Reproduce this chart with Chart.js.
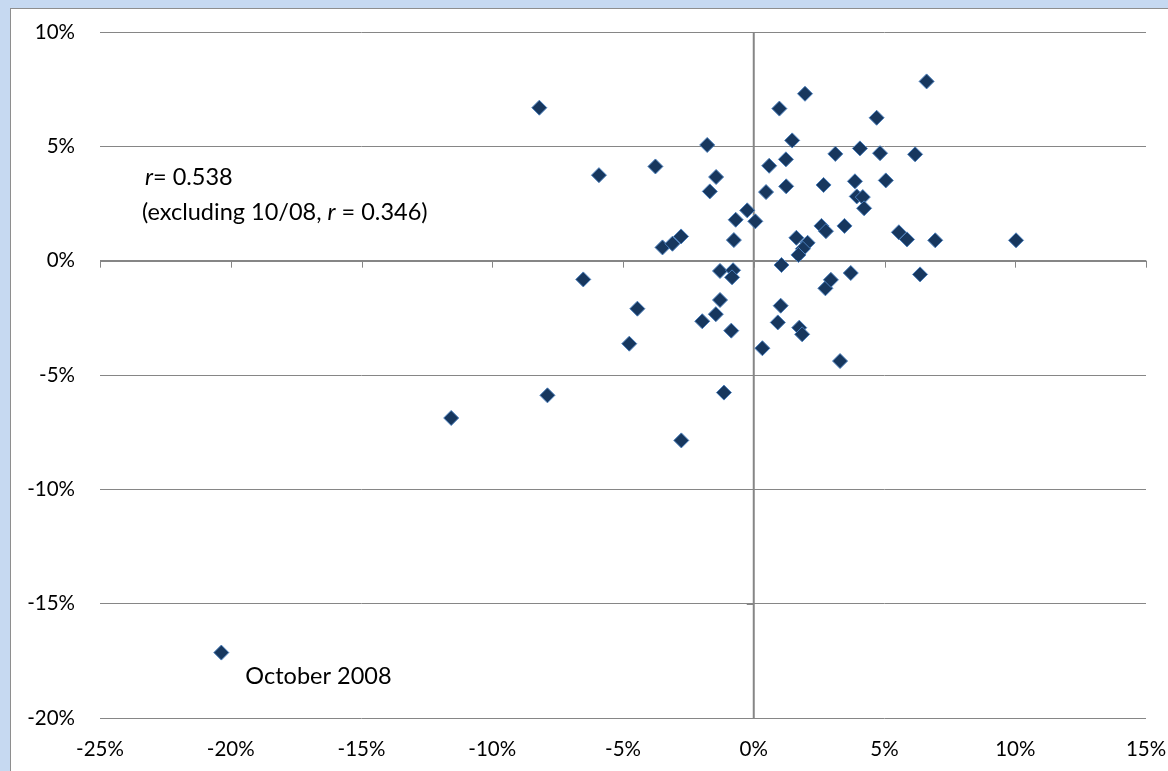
<!DOCTYPE html>
<html>
<head>
<meta charset="utf-8">
<script src="https://cdn.jsdelivr.net/npm/chart.js@4.4.1/dist/chart.umd.min.js"></script>
<style>
  html, body { margin: 0; padding: 0; overflow: hidden; background: #c6d9f1; }
  #frame { position: absolute; left: 10px; top: 8px; width: 1170px; height: 775px; background: #fff; border: 1px solid #8e8e8e; }
  #wrap { position: absolute; left: 0; top: 0; width: 1157px; height: 762px; }
</style>
</head>
<body>
<div id="frame"><div id="wrap"><canvas id="scatter"></canvas></div></div>
<script>
// monthly returns, in percent (x vs y)
const xValues = [
  -20.36, -11.57, -7.89, -8.20, -5.92, -6.52, -4.76, -4.45, -3.76, -3.49,
  -3.11, -2.78, -2.77, -1.97, -1.78, -1.68, -1.44, -1.45, -1.29, -1.29,
  -1.14, -0.79, -0.83, -0.86, -0.76, -0.69, -0.25, 0.06, 0.33, 0.47,
  0.59, 0.98, 1.06, 1.03, 0.92, 1.23, 1.24, 1.47, 1.63, 2.06,
  1.88, 1.71, 1.96, 1.74, 1.85, 2.59, 2.76, 2.67, 2.74, 2.95,
  3.12, 3.30, 3.47, 3.71, 3.87, 3.94, 4.06, 4.17, 4.22, 4.70,
  4.83, 5.05, 5.55, 5.86, 6.17, 6.36, 6.61, 6.94, 10.03
]
const yValues = [
  -17.14, -6.88, -5.89, 6.69, 3.74, -0.82, -3.63, -2.10, 4.12, 0.58,
  0.74, 1.06, -7.86, -2.65, 5.06, 3.03, 3.66, -2.34, -0.45, -1.72,
  -5.77, -0.42, -0.73, -3.06, 0.90, 1.79, 2.20, 1.72, -3.83, 3.00,
  4.15, 6.65, -0.19, -1.97, -2.70, 4.43, 3.25, 5.26, 1.00, 0.78,
  0.52, 0.25, 7.30, -2.93, -3.22, 1.52, 1.29, 3.31, -1.21, -0.84,
  4.67, -4.39, 1.52, -0.54, 3.47, 2.81, 4.91, 2.78, 2.29, 6.25,
  4.70, 3.51, 1.24, 0.93, 4.65, -0.60, 7.84, 0.89, 0.89
]
const xTicks = [-25, -20, -15, -10, -5, 0, 5, 10, 15]
const yTicks = [-20, -15, -10, -5, 0, 5, 10]
const outlierLabel = 'October 2008'
const rAll = '0.538'
const rExcl = '0.346'

const FONT = 'Lato, "Liberation Sans", sans-serif'
const GRID = '#868686'
const TICK_SIZE = 20.5
const NOTE_SIZE = 23.5

const points = xValues.map((x, i) => ({ x: x, y: yValues[i] }))

// zero axes with Excel-style tick marks, plus the text notes
const axisLines = {
  id: 'axisLines',
  beforeDatasetsDraw(chart) {
    const ctx = chart.ctx
    const xs = chart.scales.x
    const ys = chart.scales.y
    const area = chart.chartArea
    const x0 = xs.getPixelForValue(0)
    const y0 = ys.getPixelForValue(0)
    ctx.save()
    ctx.strokeStyle = GRID
    ctx.lineWidth = 2
    ctx.beginPath()
    ctx.moveTo(x0, area.top)
    ctx.lineTo(x0, area.bottom)
    ctx.stroke()
    ctx.lineWidth = 1
    ctx.beginPath()
    xTicks.forEach(v => {
      const px = Math.round(xs.getPixelForValue(v)) + 0.5
      ctx.moveTo(px, y0)
      ctx.lineTo(px, y0 + 7)
    })
    yTicks.forEach(v => {
      const py = Math.round(ys.getPixelForValue(v)) + 0.5
      ctx.moveTo(x0 - 7, py)
      ctx.lineTo(x0, py)
    })
    ctx.stroke()
    ctx.restore()
  },
  afterDraw(chart) {
    const ctx = chart.ctx
    const xs = chart.scales.x
    const ys = chart.scales.y
    const area = chart.chartArea
    ctx.save()
    ctx.fillStyle = '#000'
    ctx.textBaseline = 'middle'
    ctx.textAlign = 'left'

    const upright = NOTE_SIZE + 'px ' + FONT
    const italic = 'italic ' + NOTE_SIZE + 'px ' + FONT
    let tx = area.left + 45
    let ty = area.top + 145
    ctx.font = italic
    ctx.fillText('r', tx, ty)
    tx += ctx.measureText('r').width
    ctx.font = upright
    ctx.fillText('= ' + rAll, tx, ty)

    tx = area.left + 42
    ty += 35
    const first = '(excluding 10/08, '
    ctx.fillText(first, tx, ty)
    tx += ctx.measureText(first).width
    ctx.font = italic
    ctx.fillText('r', tx, ty)
    tx += ctx.measureText('r').width
    ctx.font = upright
    ctx.fillText(' = ' + rExcl + ')', tx, ty)

    // label next to the outlier
    let idx = 0
    yValues.forEach((v, i) => { if (v < yValues[idx]) idx = i })
    const px = xs.getPixelForValue(xValues[idx])
    const py = ys.getPixelForValue(yValues[idx])
    ctx.fillText(outlierLabel, px + 24, py + 24)
    ctx.restore()
  }
}

new Chart(document.getElementById('scatter').getContext('2d'), {
  type: 'scatter',
  data: {
    datasets: [
      {
        label: 'Returns',
        data: points,
        pointStyle: 'rectRot',
        pointRadius: 7.5,
        pointHoverRadius: 7.5,
        backgroundColor: '#17375e',
        borderColor: '#4a7ebb',
        borderWidth: 1
      }
    ]
  },
  options: {
    responsive: true,
    maintainAspectRatio: false,
    animation: false,
    events: [],
    layout: { padding: { top: 23, right: 22, left: 0, bottom: 0 } },
    plugins: { legend: { display: false }, tooltip: { enabled: false } },
    scales: {
      x: {
        type: 'linear',
        min: -25,
        max: 15,
        afterBuildTicks: s => { s.ticks = xTicks.map(v => ({ value: v })) },
        afterFit: s => {
          s.height = 53
          s.paddingLeft = 0
          s.paddingRight = 0
        },
        border: { display: false },
        grid: { display: false },
        ticks: {
          padding: 11,
          color: '#000',
          font: { family: FONT, size: TICK_SIZE },
          callback: v => v + '%'
        }
      },
      y: {
        type: 'linear',
        min: -20,
        max: 10,
        afterBuildTicks: s => { s.ticks = yTicks.map(v => ({ value: v })) },
        afterFit: s => {
          s.width = 89
          s.paddingTop = 0
          s.paddingBottom = 0
        },
        border: { display: false },
        grid: {
          color: GRID,
          drawTicks: false,
          lineWidth: c => c.tick && c.tick.value === 0 ? 2 : 1
        },
        ticks: {
          padding: 25,
          color: '#000',
          font: { family: FONT, size: TICK_SIZE },
          callback: v => v + '%'
        }
      }
    }
  },
  plugins: [axisLines]
})
</script>
</body>
</html>
